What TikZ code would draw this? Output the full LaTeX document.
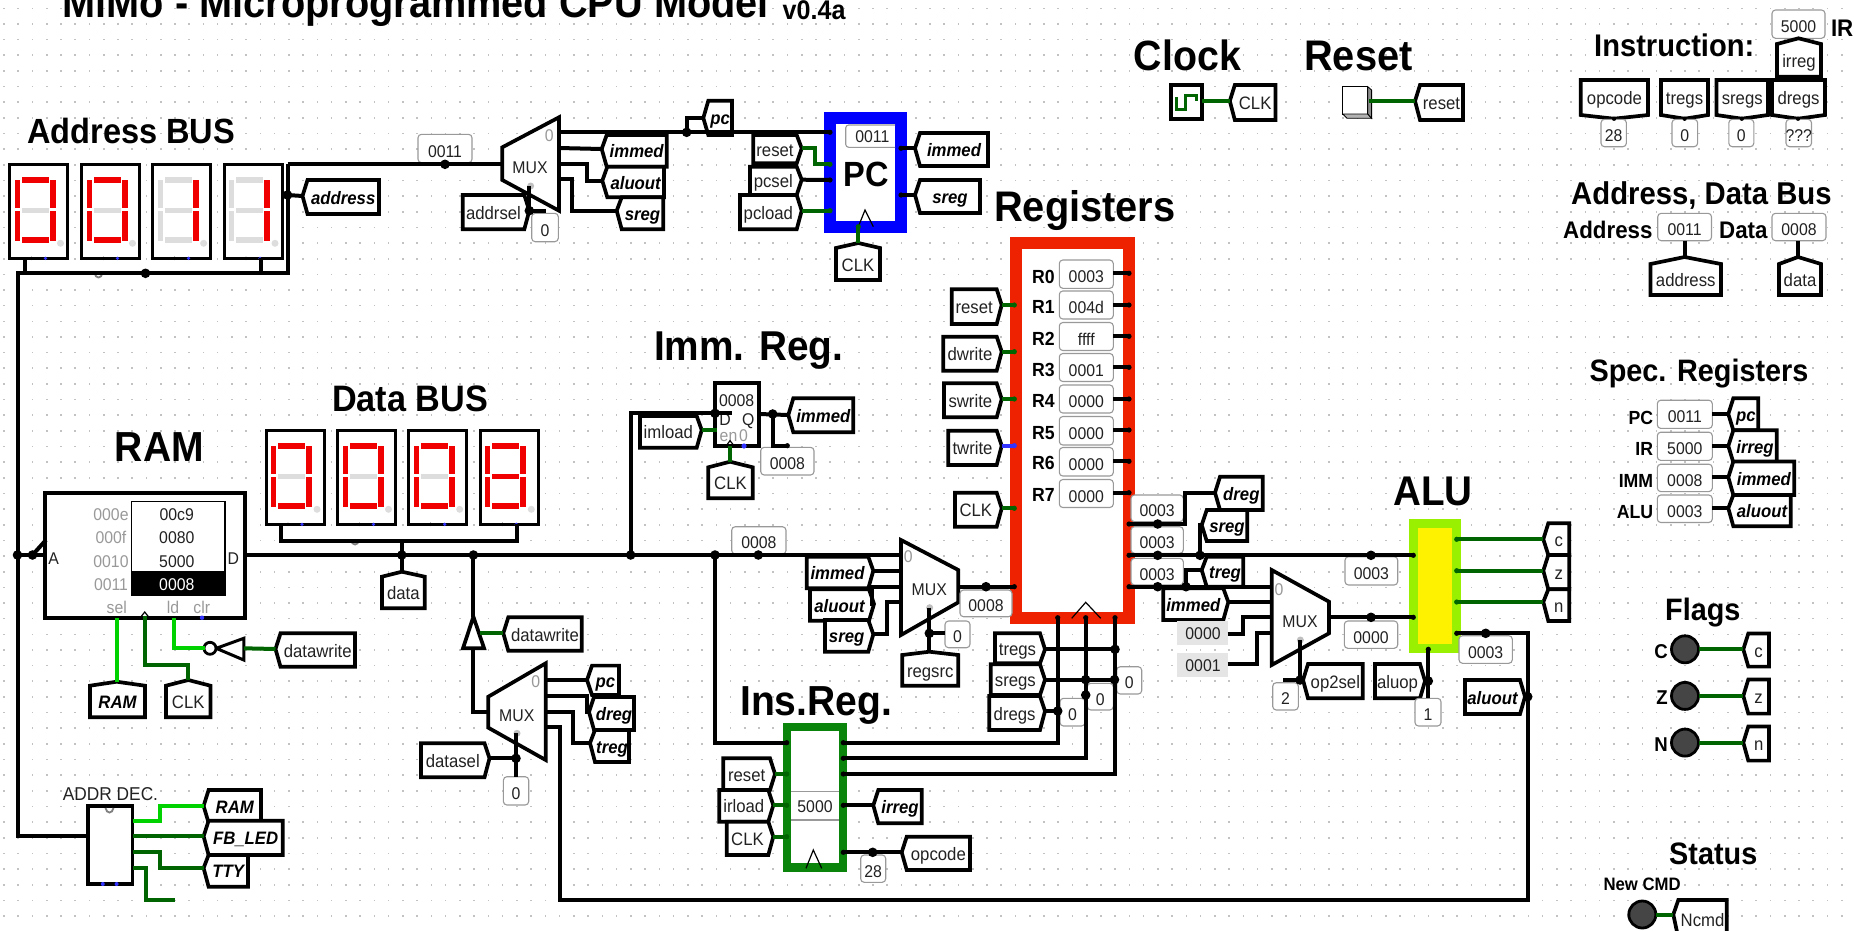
\documentclass[tikz,border=0pt]{standalone}
\usepackage{fontspec}
\setmainfont[FakeStretch=0.93]{Liberation Sans}
\definecolor{dkg}{HTML}{006400}
\definecolor{ltg}{HTML}{00D200}
\definecolor{blu}{HTML}{3333FF}
\definecolor{regred}{HTML}{EE2200}
\definecolor{irgreen}{HTML}{0A840A}
\definecolor{alulime}{HTML}{99F000}
\definecolor{segon}{HTML}{F00000}
\definecolor{segoff}{HTML}{DDDDDD}
\definecolor{gtxt}{HTML}{999999}
\definecolor{txt}{HTML}{222222}
\definecolor{pb}{HTML}{999999}
\newcommand{\fnt}[1]{\fontsize{#1}{#1}\selectfont}
\tikzset{
 griddot/.style={fill=black!24},
 wirek/.style={draw=black,line width=4pt,line join=miter},
 wireg/.style={draw=dkg,line width=4pt,line join=miter},
 wirel/.style={draw=ltg,line width=4pt,line join=miter},
 wireb/.style={draw=blu,line width=4pt,line join=miter},
 box/.style={draw=black,line width=3.7pt,fill=white,line join=miter},
 tn/.style={anchor=base,inner sep=0pt,text=txt,font=\fnt{18}},
 ti/.style={anchor=base,inner sep=0pt,text=black,font=\fnt{18}\bfseries\itshape},
 pt/.style={anchor=base,inner sep=0pt,text=txt,font=\fnt{17}},
 gt/.style={anchor=base,inner sep=0pt,text=gtxt,font=\fnt{17}},
 head/.style={anchor=base west,inner sep=0pt,text=black,font=\fnt{#1}\bfseries},
 lab/.style={anchor=base east,inner sep=0pt,text=black,font=\fnt{#1}\bfseries},
 probeb/.style={draw=pb,line width=1.1pt,rounded corners=3.5pt,fill=white},
 thinl/.style={draw=black,line width=1.2pt},
}
\newcommand{\C}[3]{\coordinate (#1) at (#2,#3);}
\newcommand{\tunL}[8][tn]{%
 \coordinate (#2) at (#3,#4);
 \draw[box] (#3,#4) -- ({#3+5},#6) -- (#5,#6) -- (#5,#7) -- ({#3+5},#7) -- cycle;
 \node[#1] (#2t) at ({(#3+5+#5)/2},{(#6+#7)/2+7}) {#8};}
\newcommand{\tunR}[8][tn]{%
 \coordinate (#2) at (#3,#4);
 \draw[box] (#3,#4) -- ({#3-5},#6) -- (#5,#6) -- (#5,#7) -- ({#3-5},#7) -- cycle;
 \node[#1] (#2t) at ({(#3-5+#5)/2},{(#6+#7)/2+7}) {#8};}
\newcommand{\tunV}[9][tn]{%
 \coordinate (#2) at (#3,#4);
 \draw[box] (#3,#4) -- (#8,#5) -- (#8,#6) -- (#7,#6) -- (#7,#5) -- cycle;
 \node[#1] (#2t) at ({(#7+#8)/2},{(#5+#6)/2+7}) {#9};}
\newcommand{\prb}[6]{%
 \draw[probeb] (#2,#3) rectangle (#4,#5);
 \node[pt] (#1) at ({(#2+#4)/2},{(#3+#5)/2+8.5}) {#6};}
\newcommand{\jn}[1]{\fill[black] (#1) circle[radius=4.8];}
\newcommand{\pn}[1]{\fill[black] (#1) circle[radius=2.6];}
\newcommand{\pg}[1]{\fill[dkg] (#1) circle[radius=2.6];}
\newcommand{\digit}[9]{%
 \begin{scope}[shift={(#1,#2)}]
 \draw[box,line width=3pt] (0,0) rectangle (58,94.3);
 \fill[#3] (12,12.7) rectangle (39,18.7);
 \fill[#4] (40,16) rectangle (46,44);
 \fill[#5] (40,46.7) rectangle (46,76.7);
 \fill[#6] (12,73.3) rectangle (39,79.3);
 \fill[#7] (5,46.7) rectangle (10,76.7);
 \fill[#8] (5,16) rectangle (10,44);
 \fill[#9] (12,44.3) rectangle (39,49.3);
 \fill[segoff] (51,79.3) circle[radius=3.5];
 \fill[black] (22,94.3) circle[radius=1.8];
 \fill[blu] (36,94.3) circle[radius=1.8];
 \end{scope}}
\newcommand{\dZ}[2]{\digit{#1}{#2}{segon}{segon}{segon}{segon}{segon}{segon}{segoff}}
\newcommand{\dO}[2]{\digit{#1}{#2}{segoff}{segon}{segon}{segoff}{segoff}{segoff}{segoff}}
\newcommand{\dE}[2]{\digit{#1}{#2}{segon}{segon}{segon}{segon}{segon}{segon}{segon}}
\newcommand{\muxs}[7]{% x1 ytl ybl x2 ytr ybr doty
 \draw[box] (#1,#2) -- (#4,#5) -- (#4,#6) -- (#1,#3) -- cycle;
 \fill[black!25] ({(#1+#4)/2},#7) circle[radius=3.5];}
\newcommand{\omg}[2]{\draw[black!50,line width=1.8pt] ({#1-4},{#2-3}) .. controls ({#1-3},{#2+3}) and ({#1+3},{#2+3}) .. ({#1+4},{#2-3});}
\newcommand{\led}[3]{\draw[fill=black!73,draw=black,line width=2.8pt] (#2,#3) circle[radius=13.5]; \coordinate (#1) at ({#2+14},#3);}
\begin{document}
\begin{tikzpicture}[x=1pt,y=-1pt]
\useasboundingbox (0,0) rectangle (1854,930);
\clip (0,0) rectangle (1854,930);
\fill[white] (0,0) rectangle (1854,930);
\foreach \i in {0,...,130}{\foreach \j in {0,...,59}{\fill[griddot] ({3.2+14.246*\i},{7.5+15.65*\j}) rectangle ++(1.6,1.6);}}

% ---------- headings
\node[head=42.7] (title) at (62.6,17) {MiMo - Microprogrammed CPU Model};
\node[head=27] (ver) at (782.5,19) {v0.4a};
\node[head=35] (hAddr) at (27,143.3) {Address BUS};
\node[head=36.8] (hData) at (332,411) {Data BUS};
\node[head=42] (hRam) at (114.6,461.7) {RAM};
\node[head=41.7] (hImm) at (654,360) {Imm. Reg.};
\node[head=42] (hIns) at (740,715.7) {Ins.Reg.};
\node[head=42.8] (hReg) at (994,221) {Registers};
\node[head=41.5] (hAlu) at (1393,505) {ALU};
\node[head=42.3] (hClock) at (1133.7,70.7) {Clock};
\node[head=42.8] (hReset) at (1304,70.7) {Reset};
\node[head=31.3] (hInst) at (1594,56) {Instruction:};
\node[head=24] (hIR) at (1830.8,36) {IR};
\node[head=31.5] (hBus) at (1571,204) {Address, Data Bus};
\node[head=24] (hA) at (1563,238.7) {Address};
\node[head=24] (hD) at (1719,238.7) {Data};
\node[head=31] (hSpec) at (1589.3,381.4) {Spec. Registers};
\node[head=31] (hFlags) at (1665,620.3) {Flags};
\node[head=31] (hStatus) at (1669,864.8) {Status};
\node[head=18] (hNew) at (1603.3,890.4) {New CMD};

% ---------- displays
\dZ{9.5}{164}\dZ{81.5}{164}\dO{152.6}{164}\dO{224}{164}
\dZ{266}{430}\dZ{337.5}{430}\dZ{408.7}{430}\dE{480.3}{430}
\omg{98.5}{276}\omg{355}{543}

% ---------- mux 1
\muxs{502.3}{147.3}{180}{559}{117.3}{210.7}{186}
\node[pt] (mA) at (530,173.5) {MUX};
\node[gt] (mAz) at (549.3,141) {0};
\tunL[ti]{tImmA}{601.7}{149}{666.7}{135}{166.7}{immed}
\tunL[ti]{tAluA}{602.3}{180.7}{664}{166.7}{197.3}{aluout}
\tunL[ti]{tSregA}{616.7}{210.7}{663.3}{197.3}{229.3}{sreg}
\tunL[ti]{tPcA}{703.3}{118}{732}{100.7}{135}{pc}
\tunL[ti]{tAddr}{302.5}{196}{379}{180}{214}{address}
\tunR{tAddrSel}{529.3}{210.7}{462.7}{195}{229.3}{addrsel}
\prb{pAddr}{418}{134.3}{472}{162.7}{0011}
\prb{pAddrSel}{531.7}{213.3}{558.3}{241.7}{0}

% ---------- PC
\fill[blue] (824.3,111.7) rectangle (906.7,233.3);
\fill[white] (836,124.3) rectangle (895,221);
\draw[pb,line width=1.1pt,rounded corners=3pt] (895,125) -- (845.7,125) -- (845.7,147.3) -- (895,147.3);
\node[pt] (pcv) at (872.3,142) {0011};
\node[anchor=base,inner sep=0pt,font=\fnt{35}\bfseries] (pcT) at (866,186) {PC};
\draw[thinl] (858.3,226.7) -- (865,210) -- (873.3,226.7);
\tunR{tResetP}{801.7}{148.3}{753.3}{135}{163.3}{reset}
\tunR{tPcsel}{801.7}{179.7}{750}{166.7}{195}{pcsel}
\tunR{tPcload}{801.7}{210.7}{740}{195}{229.3}{pcload}
\tunV{tClkP}{858.3}{243}{248}{280}{836}{880}{CLK}
\tunL[ti]{tImmP}{915}{148.3}{988}{133}{166}{immed}
\tunL[ti]{tSregP}{915}{195}{980}{180}{213}{sreg}

% ---------- RAM
\draw[box] (45,493.3) rectangle (245,618.3);
\node[pt] (ramA) at (53.6,564) {A};
\node[pt] (ramDt) at (233.4,564) {D};
\node[gt] (a1) at (111,520) {000e};
\node[gt] (a2) at (111,543) {000f};
\node[gt] (a3) at (111,567) {0010};
\node[gt] (a4) at (111,590) {0011};
\draw[thinl,fill=white] (131.3,501.7) rectangle (225,595);
\fill[black] (131.3,570.7) rectangle (225,595);
\node[pt] (v1) at (176.8,520) {00c9};
\node[pt] (v2) at (176.8,543) {0080};
\node[pt] (v3) at (176.8,567) {5000};
\node[pt,text=white] (v4) at (176.8,590) {0008};
\node[gt] (sel) at (116.7,613) {sel};
\node[gt] (ld) at (173,613) {ld};
\node[gt] (clr) at (201.7,613) {clr};
\draw[thinl] (140,618) -- (144.7,612) -- (149.5,618);
\tunV[ti]{tRamU}{116.7}{681.7}{685.7}{717.3}{90}{145}{RAM}
\tunV{tClkR}{188.3}{680}{685.7}{717.3}{166}{210.4}{CLK}
\tunL{tDwA}{275.5}{649}{355}{633.3}{666.7}{datawrite}
\draw[box,line width=3pt] (216.2,648.3) -- (243.8,638.3) -- (243.8,660) -- cycle;
\draw[box,line width=2.8pt] (210,648.3) circle[radius=6];
\tunV{tData}{401.8}{571.7}{576.7}{608.3}{382}{424.8}{data}
\draw[box] (473.4,616.7) -- (484.1,648.3) -- (463,648.3) -- cycle;
\tunL{tDwB}{503.3}{633.3}{581.7}{617.3}{650.7}{datawrite}

% ---------- mux 2
\muxs{488.3}{696.7}{727.7}{545.7}{663.3}{760}{733.3}
\node[pt] (mB) at (516.8,721) {MUX};
\node[gt] (mBz) at (535.8,687) {0};
\tunL[ti]{tPcB}{587}{680}{619}{665.6}{695}{pc}
\tunL[ti]{tDregB}{589}{712}{634}{697}{730}{dreg}
\tunL[ti]{tTregB}{590}{743}{629}{730}{762}{treg}
\tunR{tDatasel}{489.5}{758.3}{421}{743.3}{777.3}{datasel}
\prb{pDatasel}{503.4}{776.7}{528.7}{805}{0}

% ---------- addr dec
\node[pt,font=\fnt{18.6}] (dec) at (110.5,800) {ADDR DEC.};
\draw[box] (88,806) rectangle (132.5,884);
\omg{109.5}{811}
\fill[blu] (102.8,884) circle[radius=2];
\fill[blu] (116.6,884) circle[radius=2];
\tunL[ti]{tRamD}{203.6}{806}{261}{790}{822.7}{RAM}
\tunL[ti]{tFb}{203.6}{836.3}{282.7}{820.7}{855}{FB\_LED}
\tunL[ti]{tTty}{203.6}{868}{248}{855}{886.7}{TTY}

% ---------- imm reg
\draw[box] (715,383.3) rectangle (759,446);
\node[pt] (imv) at (736.7,406.5) {0008};
\node[pt] (imD) at (725,425) {D};
\node[pt] (imQ) at (748.3,425) {Q};
\node[gt] (imE) at (728.5,441) {en};
\node[gt] (im0) at (743.5,441) {0};
\draw[thinl] (726,446) -- (730,440.7) -- (734.3,446);
\tunR{tImload}{701.7}{430}{640}{416}{447.7}{imload}
\tunV{tClkI}{730}{461.7}{467.3}{498.3}{708.3}{752.7}{CLK}
\tunL[ti]{tImmI}{788.3}{415}{853.3}{398.3}{432.3}{immed}
\prb{pImm}{760.7}{447.3}{814}{475}{0008}
\prb{pData}{731.7}{526.7}{786}{554}{0008}

% ---------- mux 3
\muxs{901}{540}{635}{958.3}{570}{602.3}{607.7}
\node[pt] (mC) at (929.3,595.5) {MUX};
\node[gt] (mCz) at (908.3,562.5) {0};
\tunR[ti]{tImmC}{873.3}{570.7}{806.7}{556.7}{588.3}{immed}
\tunR[ti]{tAluC}{874}{604}{810}{589.3}{620.7}{aluout}
\tunR[ti]{tSregC}{873.3}{634.3}{825}{620}{651.7}{sreg}
\tunV{tRegsrc}{929.3}{651.7}{655}{685.7}{902.3}{958.3}{regsrc}
\prb{pRegsrc}{945}{621}{970}{647.7}{0}

% ---------- instruction register
\fill[irgreen] (782.7,722.7) rectangle (847.3,872.3);
\fill[white] (791,731) rectangle (839.3,863.3);
\draw[pb,line width=1.1pt] (791,791.7) -- (839.3,791.7) (791,820) -- (839.3,820);
\node[pt] (irv) at (815,812) {5000};
\draw[thinl] (806,868.3) -- (813.3,850) -- (821.7,868.3);
\tunR{tResetI}{775}{774}{723.3}{758.3}{790}{reset}
\tunR{tIrload}{773.3}{805.3}{719.3}{790}{821.7}{irload}
\tunR{tClkIr}{773.3}{836.7}{726.7}{821.7}{855}{CLK}
\tunL[ti]{tIrreg}{873.3}{805.3}{921.7}{790}{823.3}{irreg}
\tunL{tOpcode}{901.7}{852.3}{970}{836.7}{870}{opcode}
\prb{pOp}{860.7}{855}{885.7}{882.3}{28}

% ---------- registers
\fill[regred] (1010,236.7) rectangle (1135,624);
\fill[white] (1021.7,249.3) rectangle (1123.3,611.7);
\node[lab=19] (R0) at (1055,283) {R0};
\node[lab=19] (R1) at (1055,313.5) {R1};
\node[lab=19] (R2) at (1055,345) {R2};
\node[lab=19] (R3) at (1055,376.2) {R3};
\node[lab=19] (R4) at (1055,407.3) {R4};
\node[lab=19] (R5) at (1055,439) {R5};
\node[lab=19] (R6) at (1055,469.5) {R6};
\node[lab=19] (R7) at (1055,501.2) {R7};
\prb{v0}{1059.3}{260}{1113.3}{288.3}{0003}
\prb{v1r}{1059.3}{291}{1113.3}{319}{004d}
\prb{v2r}{1059.3}{322.5}{1113.3}{350.5}{ffff}
\prb{v3r}{1059.3}{353.5}{1113.3}{381.5}{0001}
\prb{v4r}{1059.3}{385}{1113.3}{413}{0000}
\prb{v5r}{1059.3}{416.5}{1113.3}{445}{0000}
\prb{v6r}{1059.3}{447.5}{1113.3}{476}{0000}
\prb{v7r}{1059.3}{479.5}{1113.3}{507.5}{0000}
\draw[thinl] (1071.7,618.3) -- (1085.7,602.3) -- (1100.7,618.3);
\tunR{tResetR}{1001.7}{305}{951.7}{289.3}{324}{reset}
\tunR{tDw}{1001.7}{351.7}{943.3}{336.7}{370.7}{dwrite}
\tunR{tSw}{1001.7}{399}{944}{383.3}{417.3}{swrite}
\tunR{tTw}{1001.7}{445.7}{948.3}{430.7}{465}{twrite}
\tunR{tClkRg}{1001.7}{508.3}{955}{492.7}{526.7}{CLK}
\prb{pMuxC}{960}{590}{1012}{616.7}{0008}
\prb{pO1}{1131}{495}{1183.3}{521.7}{0003}
\prb{pO2}{1131}{526.7}{1183.3}{553.3}{0003}
\prb{pO3}{1131}{558.3}{1183.3}{585}{0003}
\tunR{tTregs}{1045}{649.3}{995}{633.3}{663.3}{tregs}
\tunR{tSregs}{1045}{679.7}{990.7}{664.3}{695}{sregs}
\tunR{tDregs}{1045}{711}{989.3}{696}{730}{dregs}
\prb{pT}{1116.7}{666.7}{1141.7}{694}{0}
\prb{pS}{1087.3}{683.3}{1113.3}{710}{0}
\prb{pD}{1060}{698.3}{1085}{726}{0}
\tunL[ti]{tDregO}{1215}{492.7}{1262.7}{476.7}{510}{dreg}
\tunL[ti]{tSregO}{1201.7}{525}{1247.3}{510}{541}{sreg}
\tunL[ti]{tTregO}{1201.7}{570}{1243.3}{556.7}{586.7}{treg}

% ---------- mux 4 and ALU
\muxs{1271.7}{570}{665}{1329}{601.7}{633.3}{640}
\node[pt] (mD) at (1300,627) {MUX};
\node[gt] (mDz) at (1279,595) {0};
\tunR[ti]{tImmD}{1228.3}{602}{1163.3}{588.3}{620}{immed}
\fill[black!10] (1177.3,621) rectangle (1227.7,645);
\fill[black!10] (1177.3,652.7) rectangle (1227.7,676.7);
\node[pt] (k0) at (1203,639) {0000};
\node[pt] (k1) at (1203,671) {0001};
\C{k0o}{1227.7}{633.7}\C{k1o}{1227.7}{664}
\tunL{tOp2}{1303}{680}{1362.7}{664}{698.3}{op2sel}
\prb{pOp2}{1272.7}{682.7}{1298.3}{710}{2}
\prb{pAlua}{1345}{556.7}{1397.7}{585}{0003}
\prb{pAlub}{1344.3}{621}{1397.7}{648.3}{0000}
\fill[alulime] (1409.3,519) rectangle (1460.7,653.3);
\fill[yellow] (1418.3,528.3) rectangle (1452.3,644);
\tunL{tC}{1543.3}{539.3}{1569.3}{523.3}{555}{c}
\tunL{tZ}{1543.3}{570.7}{1569.3}{555}{589.3}{z}
\tunL{tN}{1543.3}{602}{1569.3}{589.3}{621}{n}
\tunR{tAluop}{1425}{681}{1375}{664}{698.3}{aluop}
\prb{pAluop}{1415}{698.3}{1441}{726}{1}
\prb{pAluo}{1459}{635.7}{1512.3}{663.3}{0003}
\tunR[ti]{tAluF}{1525}{696.7}{1465}{680}{714}{aluout}

% ---------- clock and reset
\draw[box] (1171,85) rectangle (1202,119.3);
\draw[dkg,line width=3pt] (1176,97) -- (1176,109.3) -- (1185.6,109.3) -- (1185.6,95) -- (1196,95) -- (1196,101);
\tunL{tClkTop}{1229.8}{101}{1275.5}{85}{120}{CLK}
\draw[black,line width=1pt,fill=white] (1342.8,86.7) rectangle (1367.8,114);
\draw[black,line width=.8pt,fill=black!30] (1342.8,114) -- (1367.8,114) -- (1371.6,118.3) -- (1347,118.3) -- cycle;
\draw[black,line width=.8pt,fill=black!45] (1367.8,86.7) -- (1371.6,90) -- (1371.6,118.3) -- (1367.8,114) -- cycle;
\C{btn}{1369}{101}
\tunL{tResetTop}{1415}{101}{1463}{85}{120}{reset}

% ---------- top right
\prb{pIR}{1772}{10}{1825}{38.3}{5000}
\tunV{tIrregT}{1798.5}{38.3}{44}{76.7}{1777}{1821}{irreg}
\tunV{tOpT}{1614}{118.7}{115}{80}{1580.8}{1648}{opcode}
\tunV{tTrT}{1684.6}{118.7}{115}{80}{1661}{1708}{tregs}
\tunV{tSrT}{1741.8}{118.7}{115}{80}{1716.4}{1768}{sregs}
\tunV{tDrT}{1798}{118.7}{115}{80}{1772}{1825}{dregs}
\prb{pOpT}{1601}{119.3}{1626.4}{146.7}{28}
\prb{pTrT}{1672}{119.3}{1697.6}{146.7}{0}
\prb{pSrT}{1728.8}{119.3}{1753.8}{146.7}{0}
\prb{pDrT}{1786}{119.3}{1811.5}{146.7}{???}
\prb{pAdrT}{1657.7}{213.3}{1711.5}{240.7}{0011}
\prb{pDatT}{1772}{213.3}{1826}{240.7}{0008}
\C{pAdrTb}{1684.6}{240.7}\C{pDatTb}{1798}{240.7}
\tunV{tAdrT}{1684.6}{257}{264}{295}{1650.5}{1721}{address}
\tunV{tDatT}{1798}{257}{264}{295}{1779}{1821}{data}

% ---------- special registers
\node[lab=19] (lPC) at (1653.3,424.5) {PC};
\node[lab=19] (lIR) at (1653.3,455.5) {IR};
\node[lab=19] (lIM) at (1653.3,487) {IMM};
\node[lab=19] (lAL) at (1653.3,518) {ALU};
\prb{sPC}{1657.3}{400.2}{1712.3}{428.4}{0011}
\prb{sIR}{1657.3}{432.2}{1712.3}{460.4}{5000}
\prb{sIM}{1657.3}{464.2}{1712.3}{491.6}{0008}
\prb{sAL}{1657.3}{495}{1712.3}{522.5}{0003}
\C{sPCr}{1712.3}{414}\C{sIRr}{1712.3}{446}\C{sIMr}{1712.3}{477.3}\C{sALr}{1712.3}{508.2}
\tunL[ti]{tPcS}{1728.3}{414}{1758.3}{398.3}{430.3}{pc}
\tunL[ti]{tIrS}{1728.3}{446}{1776.7}{430.3}{462.3}{irreg}
\tunL[ti]{tImS}{1728.3}{477.3}{1794.3}{461.5}{495}{immed}
\tunL[ti]{tAlS}{1728.3}{508.2}{1790.7}{495}{526.2}{aluout}

% ---------- flags
\led{lC}{1685}{649.3}\led{lZ}{1685}{695.9}\led{lN}{1685}{742.6}\led{lS}{1642.3}{914.5}
\node[lab=20] (tlC) at (1668,658) {C};
\node[lab=20] (tlZ) at (1668,704) {Z};
\node[lab=20] (tlN) at (1668,751) {N};
\tunL{fC}{1743.3}{649.3}{1769}{633.5}{666.6}{c}
\tunL{fZ}{1743.3}{695.9}{1769}{679.4}{713.6}{z}
\tunL{fN}{1743.3}{742.6}{1769}{726.4}{760.6}{n}
\tunL{fS}{1673.3}{914.5}{1726.7}{900}{938}{Ncmd}

% ---------- named pins
\C{mAin}{502.3}{164.3}\C{mAo0}{559}{132.3}\C{mAo1}{559}{148}\C{mAo2}{559}{164.3}\C{mAo3}{559}{179.3}
\C{mAs}{529.3}{186}\C{jAs}{529.3}{210.7}\C{prA0}{546}{210.7}
\C{jAd}{445}{164.3}\C{bus}{287.5}{164.3}\C{jBus}{287.5}{195}\C{jBusB}{145.5}{273.3}
\C{pcIn}{830}{132.3}\C{pcRst}{830}{164.3}\C{pcSel}{830}{180}\C{pcLd}{830}{210.7}\C{pcClk}{858.3}{226.7}
\C{pcO1}{901}{148.3}\C{pcO2}{901}{195}\C{jPc}{686.7}{132.3}
\C{ramApin}{45}{555}\C{ramDpin}{245}{555}\C{jL}{17.5}{555}\C{jL2}{32.5}{555}
\C{jD1}{401.8}{555}\C{jD2}{473.4}{555}\C{jD3}{630.7}{555}\C{jD4}{715}{555}\C{jD5}{758.3}{555}
\C{mCa}{901}{555}\C{mCb}{901}{570.7}\C{mCc}{901}{586.7}\C{mCd}{901}{602.3}
\C{triT}{473.4}{616.7}\C{triB}{473.4}{648.3}\C{triC}{480}{633.3}
\C{mBin}{488.3}{711.7}\C{mBo0}{545.7}{680}\C{mBo1}{545.7}{696}\C{mBo2}{545.7}{711.7}\C{mBo3}{545.7}{726.7}
\C{jB}{516}{758.3}\C{mBs}{516}{733.3}\C{prB}{516}{776.7}
\C{decIn}{88}{835.7}\C{d0}{132.5}{821}\C{d1}{132.5}{836.3}\C{d2}{132.5}{852.3}\C{d3}{132.5}{868}\C{dEnd}{175.2}{900}
\C{rSel}{116.7}{618}\C{rClk}{144.7}{616}\C{rLd}{174}{618}\C{notI}{243.8}{648.3}\C{bub}{204.7}{648.3}
\C{imDp}{731.7}{413.3}\C{jImD}{715}{413.3}\C{imEn}{717}{430}\C{imClk}{730}{446}\C{imQp}{759}{414}\C{jImQ}{772.7}{414}\C{imPr}{787.3}{445.7}
\C{mCo}{958.3}{586.7}\C{rgIn}{1014.3}{586.7}\C{jMc}{986}{586.7}
\C{mCs}{929.3}{607.7}\C{jCs}{929.3}{633.3}\C{prCs}{945}{633.3}
\C{irIn}{786.7}{742.7}\C{irRst}{786.7}{774}\C{irLd}{786.7}{805.3}\C{irClk}{786.7}{836.7}
\C{irO1}{843.3}{742.7}\C{irO2}{843.3}{758.3}\C{irO3}{843.3}{774}\C{irO4}{843.3}{805.3}\C{irO5}{843.3}{852.3}\C{jOp}{872.7}{852.3}
\C{rgB1}{1057.7}{617.7}\C{rgB2}{1085.7}{617.7}\C{rgB3}{1115}{617.7}
\C{jT}{1115}{649.3}\C{jS}{1085.7}{679.7}\C{jS2}{1114.5}{679.7}\C{jS3}{1085.7}{695}\C{jDr}{1057.7}{711}
\C{rgO1}{1129}{524}\C{rgO2}{1129}{555.3}\C{rgO3}{1129}{586.7}
\C{jO1}{1157.7}{524}\C{jO2}{1157.7}{555.3}\C{jO3}{1157.7}{586.7}\C{jO2b}{1200}{555.3}\C{jO3b}{1186}{586.7}
\C{aluA}{1413.3}{555.3}\C{aluB}{1413.3}{617.3}\C{jAa}{1371}{555.3}\C{jAb}{1371}{617.3}
\C{mDa}{1271.7}{586.7}\C{mDb}{1271.7}{602}\C{mDc}{1271.7}{616.7}\C{mDd}{1271.7}{633.3}\C{mDo}{1329}{617.3}
\C{mDs}{1300}{640}\C{jDs}{1300}{680}\C{prDs}{1283.3}{680}
\C{aluC}{1456.7}{539.3}\C{aluZ}{1456.7}{570.7}\C{aluN}{1456.7}{602}\C{aluO}{1456.7}{633.3}\C{aluP}{1428.3}{649.3}
\C{jAo}{1485.7}{633.3}\C{jAf}{1527.7}{696.7}\C{jAop}{1428.3}{681}\C{prAop}{1428.3}{698}
\C{clkO}{1202}{101}\C{pIRb}{1798.5}{38.3}

% ---------- black wires
\draw[wirek] (bus) -- (mAin);
\draw[wirek] (bus) -- (287.5,273.3) -- (17.8,273.3) -- (17.8,835.7) -- (decIn);
\draw[wirek] (24.5,258) -- (24.5,273.3);
\draw[wirek] (261,258) -- (261,273.3);
\draw[wirek] (jBus) -- (tAddr);
\draw[wirek] (mAo0) -- (pcIn);
\draw[wirek] (jPc) -- (686.7,118) -- (tPcA);
\draw[wirek] (mAo1) -- (tImmA);
\draw[wirek] (mAo2) -- (586.7,164.3) -- (586.7,180.7) -- (tAluA);
\draw[wirek] (mAo3) -- (572.3,179.3) -- (572.3,210.7) -- (tSregA);
\draw[wirek] (mAs) -- (jAs) -- (prA0);
\draw[wirek] (tAddrSel) -- (jAs);
\draw[wirek] (tPcsel) -- (pcSel);
\draw[wirek] (pcO1) -- (tImmP);
\draw[wirek] (pcO2) -- (tSregP);
\draw[wirek] (jL) -- (ramApin);
\draw[wirek] (jL2) -- (46,540);
\draw[wirek] (ramDpin) -- (mCa);
\draw[wirek] (281.3,524.3) -- (281.3,540.7) -- (517.4,540.7) -- (517.4,524.3);
\draw[wirek] (401.8,540.7) -- (tData);
\draw[wirek] (jD2) -- (triT);
\draw[wirek] (triB) -- (473.4,711.7) -- (mBin);
\draw[wirek] (jD3) -- (630.7,413.3) -- (imDp);
\draw[wirek] (imQp) -- (tImmI);
\draw[wirek] (jImQ) -- (772.7,445.7) -- (imPr);
\draw[wirek] (jD4) -- (715,742.7) -- (irIn);
\draw[wirek] (mBo0) -- (tPcB);
\draw[wirek] (mBo1) -- (587,696) -- (587,712) -- (tDregB);
\draw[wirek] (mBo2) -- (573.4,711.7) -- (573.4,743) -- (tTregB);
\draw[wirek] (mBo3) -- (559.5,726.7) -- (559.5,900) -- (1527.7,900) -- (1527.7,633.3) -- (aluO);
\draw[wirek] (tDatasel) -- (jB);
\draw[wirek] (mBs) -- (prB);
\draw[wirek] (tImmC) -- (mCb);
\draw[wirek] (tAluC) -- (872,604) -- (872,586.7) -- (mCc);
\draw[wirek] (tSregC) -- (887,634.3) -- (887,602.3) -- (mCd);
\draw[wirek] (mCo) -- (rgIn);
\draw[wirek] (mCs) -- (tRegsrc);
\draw[wirek] (jCs) -- (prCs);
\draw[wirek] (irO1) -- (1057.7,742.7) -- (rgB1);
\draw[wirek] (irO2) -- (1085.7,758.3) -- (rgB2);
\draw[wirek] (irO3) -- (1115,774) -- (rgB3);
\draw[wirek] (irO4) -- (tIrreg);
\draw[wirek] (irO5) -- (tOpcode);
\draw[wirek] (tTregs) -- (jT);
\draw[wirek] (tSregs) -- (jS2);
\draw[wirek] (tDregs) -- (jDr);
\foreach \y in {273.3,305,336.3,367.3,399,430,461.3,492.7}{\draw[wirek] (1113.3,\y) -- (1129,\y); \fill[black] (1129,\y) circle[radius=2.6];}
\draw[wirek] (rgO1) -- (1185,524) -- (1185,492.7) -- (tDregO);
\draw[wirek] (rgO2) -- (aluA);
\draw[wirek] (jO2b) -- (1200,525) -- (tSregO);
\draw[wirek] (rgO3) -- (mDa);
\draw[wirek] (jO3b) -- (1186,570) -- (tTregO);
\draw[wirek] (tImmD) -- (mDb);
\draw[wirek] (k0o) -- (1243.3,633.7) -- (1243.3,616.7) -- (mDc);
\draw[wirek] (k1o) -- (1256.7,664) -- (1256.7,633.3) -- (mDd);
\draw[wirek] (mDo) -- (aluB);
\draw[wirek] (mDs) -- (jDs) -- (tOp2);
\draw[wirek] (prDs) -- (jDs);
\draw[wirek] (aluP) -- (prAop);
\draw[wirek] (tAluop) -- (jAop);
\draw[wirek] (jAf) -- (tAluF);
\draw[wirek] (pIRb) -- (tIrregT);
\foreach \a in {tOpT,tTrT,tSrT,tDrT}{\fill[black] (\a) circle[radius=2.2];}
\draw[wirek] (pAdrTb) -- (tAdrT);
\draw[wirek] (pDatTb) -- (tDatT);
\draw[wirek] (sPCr) -- (tPcS);
\draw[wirek] (sIRr) -- (tIrS);
\draw[wirek] (sIMr) -- (tImS);
\draw[wirek] (sALr) -- (tAlS);

% ---------- coloured wires
\draw[wireg] (tResetP) -- (815,148.3) -- (815,164.3) -- (pcRst);
\draw[wireg] (tPcload) -- (pcLd);
\draw[wireg] (pcClk) -- (tClkP);
\draw[wirel] (rSel) -- (tRamU);
\draw[wireg] (rClk) -- (144.7,665) -- (188.3,665) -- (tClkR);
\draw[wirel] (rLd) -- (174,648.3) -- (bub);
\draw[wireg] (notI) -- (tDwA);
\draw[wireg] (triC) -- (tDwB);
\draw[wirel] (d0) -- (160,821) -- (160,806) -- (tRamD);
\draw[wireg] (d1) -- (tFb);
\draw[wireg] (d2) -- (160,852.3) -- (160,868) -- (tTty);
\draw[wireg] (d3) -- (145.5,868) -- (145.5,900) -- (dEnd);
\draw[wireg] (tImload) -- (imEn);
\draw[wireg] (imClk) -- (tClkI);
\draw[wireg] (tResetI) -- (irRst);
\draw[wireg] (tIrload) -- (irLd);
\draw[wireg] (tClkIr) -- (irClk);
\draw[wireg] (tResetR) -- (1014.3,305);
\draw[wireg] (tDw) -- (1014.3,351.7);
\draw[wireg] (tSw) -- (1014.3,399);
\draw[wireb] (tTw) -- (1014.3,445.7);
\draw[wireg] (tClkRg) -- (1014.3,508.3);
\draw[wireg] (aluC) -- (tC);
\draw[wireg] (aluZ) -- (tZ);
\draw[wireg] (aluN) -- (tN);
\draw[wireg] (clkO) -- (tClkTop);
\draw[wireg] (btn) -- (tResetTop);
\draw[wireg] (lC) -- (fC);
\draw[wireg] (lZ) -- (fZ);
\draw[wireg] (lN) -- (fN);
\draw[wireg] (lS) -- (fS);

% ---------- junctions and pins
\foreach \n in {jAd,jBus,jBusB,jPc,jAs,jL,jL2,jD1,jD2,jD3,jD4,jD5,jB,jImD,jImQ,jMc,jCs,jOp,jT,jS,jS2,jS3,jDr,jO1,jO2,jO3,jO2b,jO3b,jAa,jAb,jDs,jAo,jAf,jAop}{\jn{\n}}
\foreach \n in {pcIn,pcSel,pcO1,pcO2,irIn,irO1,irO2,irO3,irO4,irO5,rgIn,rgB1,rgB2,rgB3,rgO1,rgO2,rgO3,aluA,aluB,aluO,aluP,imPr}{\pn{\n}}
\foreach \n in {pcRst,pcLd,pcClk,irRst,irLd,irClk}{\pg{\n}}
\foreach \x/\y in {1014.3/305,1014.3/351.7,1014.3/399,1014.3/508.3}{\fill[dkg] (\x,\y) circle[radius=2.6];}
\fill[blu] (1014.3,445.7) circle[radius=2.6];
\foreach \n in {aluC,aluZ,aluN}{\pg{\n}}
\fill[blu] (744,446) circle[radius=2.6];
\fill[blu] (202,617.7) circle[radius=2.2];
\end{tikzpicture}
\end{document}
